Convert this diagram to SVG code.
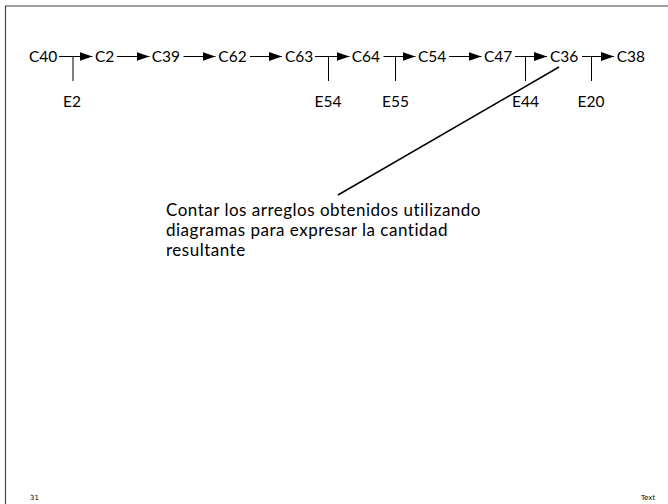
<svg xmlns="http://www.w3.org/2000/svg" width="668" height="504" viewBox="0 0 668 504">
<style>
.n{font-family:Lato,"Liberation Sans",sans-serif;font-size:15.5px;fill:#000}
.t{font-family:Lato,"Liberation Sans",sans-serif;font-size:17px;letter-spacing:0.5px;fill:#000}
.c{stroke:#000;stroke-width:1;fill:none}
.f{font-family:"DejaVu Sans",sans-serif;font-size:7px;fill:#000}
</style>
<defs>
<marker id="ah" markerUnits="userSpaceOnUse" markerWidth="14" markerHeight="9" refX="13" refY="4.5" orient="auto">
<path d="M0,0 L13,4.5 L0,9 z" fill="#000"/>
</marker>
</defs>
<rect width="668" height="504" fill="#fff"/>
<path d="M5.5,504 V6 H668" fill="none" stroke="#444" stroke-width="1.2"/>
<g id="connectors">
<line class="c" x1="59" y1="56.5" x2="92.5" y2="56.5" marker-end="url(#ah)"/>
<line class="c" x1="117" y1="56.5" x2="149.5" y2="56.5" marker-end="url(#ah)"/>
<line class="c" x1="183.5" y1="56.5" x2="215.5" y2="56.5" marker-end="url(#ah)"/>
<line class="c" x1="250" y1="56.5" x2="282" y2="56.5" marker-end="url(#ah)"/>
<line class="c" x1="315" y1="56.5" x2="349.5" y2="56.5" marker-end="url(#ah)"/>
<line class="c" x1="383.5" y1="56.5" x2="415.5" y2="56.5" marker-end="url(#ah)"/>
<line class="c" x1="449" y1="56.5" x2="481.5" y2="56.5" marker-end="url(#ah)"/>
<line class="c" x1="515" y1="56.5" x2="547" y2="56.5" marker-end="url(#ah)"/>
<line class="c" x1="582" y1="56.5" x2="614" y2="56.5" marker-end="url(#ah)"/>
<line class="c" x1="73" y1="56.5" x2="73" y2="81"/>
<line class="c" x1="328.5" y1="56.5" x2="328.5" y2="81"/>
<line class="c" x1="395.5" y1="56.5" x2="395.5" y2="81"/>
<line class="c" x1="525.5" y1="56.5" x2="525.5" y2="81"/>
<line class="c" x1="591.5" y1="56.5" x2="591.5" y2="81"/>
<g class="n" text-anchor="middle">
<text x="72" y="107">E2</text>
<text x="328" y="107">E54</text>
<text x="395.5" y="107">E55</text>
<text x="525.5" y="107">E44</text>
<text x="591" y="107">E20</text>
</g>
<line x1="559" y1="67" x2="338" y2="195" stroke="#000" stroke-width="1.5"/>
</g>
<g id="C40"><text class="n" x="29" y="62">C40</text></g>
<g id="C2"><text class="n" x="95" y="62">C2</text></g>
<g id="C39"><text class="n" x="151.7" y="62">C39</text></g>
<g id="C62"><text class="n" x="218.3" y="62">C62</text></g>
<g id="C63"><text class="n" x="285" y="62">C63</text></g>
<g id="C64"><text class="n" x="351.7" y="62">C64</text></g>
<g id="C54"><text class="n" x="418" y="62">C54</text></g>
<g id="C47"><text class="n" x="484" y="62">C47</text></g>
<g id="C36"><text class="n" x="550" y="62">C36</text></g>
<g id="C38"><text class="n" x="616.7" y="62">C38</text></g>
<g id="note">
<text class="t" x="166" y="216">Contar los arreglos obtenidos utilizando</text>
<text class="t" x="166" y="236">diagramas para expresar la cantidad</text>
<text class="t" x="166" y="256">resultante</text>
</g>
<text class="f" x="30" y="500">31</text>
<text class="f" x="641" y="500">Text</text>
</svg>
